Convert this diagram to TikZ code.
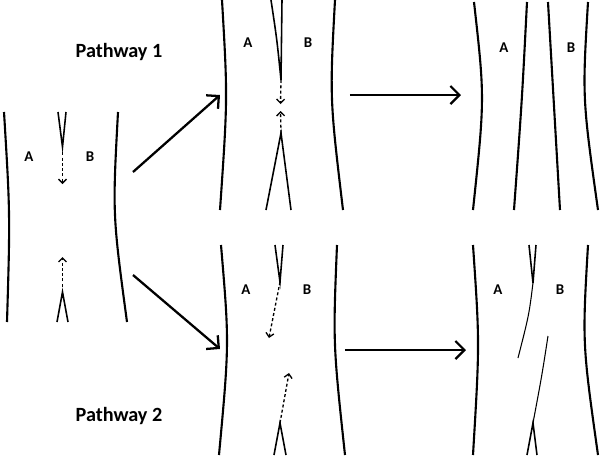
\documentclass[tikz,border=0pt]{standalone}
\usepackage{fontspec}
\setmainfont{Carlito}
\usetikzlibrary{arrows.meta}
\tikzset{
  wall/.style={line width=1.2pt},
  fork/.style={line width=0.9pt},
  thinline/.style={line width=0.6pt},
  dasharrow/.style={line width=0.75pt, dash pattern=on 1.7pt off 1.3pt, -{Straight Barb[length=0.8mm,width=1.6mm]}},
  bigarrow/.style={line width=1.3pt, -{Straight Barb[length=1.8mm,width=3.6mm]}},
  lbl/.style={font=\bfseries\fontsize{8.5}{10}\selectfont, inner sep=0pt},
  title/.style={font=\bfseries\fontsize{11.5}{14}\selectfont, inner sep=0pt}
}
\begin{document}
\begin{tikzpicture}[x=0.02cm,y=-0.02cm]
\useasboundingbox (0,0) rectangle (600,457);
% ---------- panel 1 (initial)
\draw[wall] (4,112) .. controls (10.2,214.3) .. (7,322);
\draw[wall] (118,112) .. controls (112.5,214.3) .. (127,322);
\node[lbl] (a1) at (29,157) {A};
\node[lbl] (b1) at (90,157) {B};
\coordinate (p1t) at (62.5,147);
\coordinate (p1b) at (62.5,292);
\draw[fork] (58,112) -- (p1t) -- (66,112);
\draw[fork] (57,322) -- (p1b) -- (68,322);
\coordinate (d1a) at (62.5,184);
\coordinate (d1b) at (62.5,257);
\draw[dasharrow] (p1t) -- (d1a);
\draw[dasharrow] (p1b) -- (d1b);
\node[title] (pw1) at (119,52) {Pathway 1};
\node[title] (pw2) at (119,416) {Pathway 2};
% ---------- panel 2 top
\draw[wall] (222,0) .. controls (227.7,98.3) .. (220,210);
\draw[wall] (335,0) .. controls (329.7,98.3) .. (343,210);
\node[lbl] (a2) at (248,43) {A};
\node[lbl] (b2) at (308,43) {B};
\coordinate (p2t) at (281,80);
\coordinate (p2b) at (281,133);
\draw[fork] (271,0) .. controls (277,40) .. (p2t) -- (282,0);
\draw[fork] (266,210) -- (p2b) -- (291,210);
\coordinate (d2a) at (280.5,104);
\coordinate (d2b) at (280.5,111);
\draw[dasharrow] (p2t) -- (d2a);
\draw[dasharrow] (p2b) -- (d2b);
% ---------- panel 2 bottom
\draw[wall] (221,245) .. controls (229.3,343.3) .. (219,455);
\draw[wall] (337,245) .. controls (333,343.3) .. (345,455);
\node[lbl] (a3) at (246,290) {A};
\node[lbl] (b3) at (307,290) {B};
\coordinate (p3t) at (280,282);
\coordinate (p3b) at (280,423);
\draw[fork] (275,245) -- (p3t) -- (283,245);
\draw[fork] (274,455) -- (p3b) -- (286,455);
\coordinate (d3a) at (269,338);
\coordinate (d3b) at (289,373);
\draw[dasharrow] (p3t) -- (d3a);
\draw[dasharrow] (p3b) -- (d3b);
% ---------- panel 3 top
\draw[wall] (474,2) .. controls (484.8,98) .. (473,210);
\draw[wall] (588,2) .. controls (582.3,98) .. (598,210);
\draw[wall] (527,2) .. controls (522,100) .. (514,210);
\draw[wall] (548,2) -- (560,210);
\node[lbl] (a4) at (504,48) {A};
\node[lbl] (b4) at (571,48) {B};
% ---------- panel 3 bottom
\draw[wall] (473,245) .. controls (479.7,343.3) .. (473,455);
\draw[wall] (588,245) .. controls (582.3,343.3) .. (598,455);
\node[lbl] (a5) at (498,290) {A};
\node[lbl] (b5) at (560,290) {B};
\coordinate (p5t) at (533,283);
\coordinate (p5b) at (533,423);
\draw[fork] (529,245) -- (p5t) -- (536,245);
\draw[fork] (527,455) -- (p5b) -- (537,455);
\coordinate (e5a) at (518,358);
\coordinate (e5b) at (548,336);
\draw[thinline] (p5t) .. controls (529,315) .. (e5a);
\draw[thinline] (p5b) .. controls (542,375) .. (e5b);
% ---------- big arrows
\coordinate (s1) at (133,172);
\coordinate (t1) at (220,95);
\coordinate (s2) at (133,275);
\coordinate (t2) at (220,349);
\coordinate (s3) at (350,95);
\coordinate (t3) at (461,95);
\coordinate (s4) at (345,350);
\coordinate (t4) at (466,350);
\draw[bigarrow] (s1) -- (t1);
\draw[bigarrow] (s2) -- (t2);
\draw[bigarrow] (s3) -- (t3);
\draw[bigarrow] (s4) -- (t4);
\end{tikzpicture}
\end{document}
